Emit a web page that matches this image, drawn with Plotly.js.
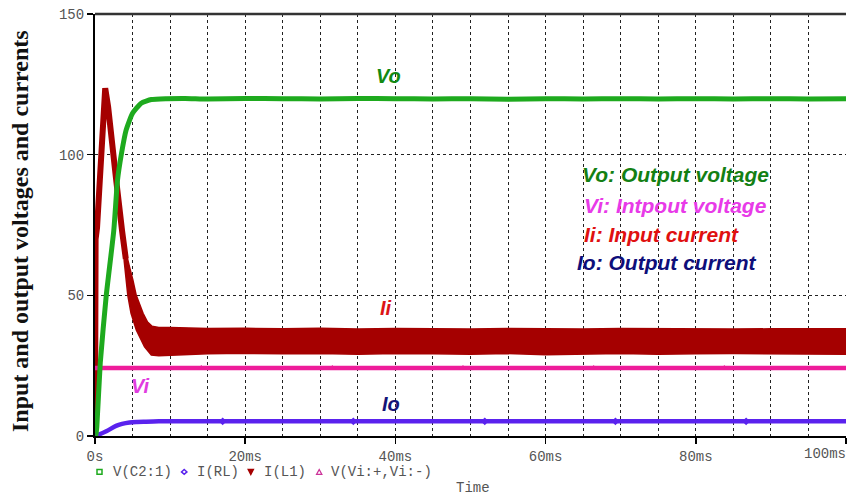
<!DOCTYPE html>
<html>
<head>
<meta charset="utf-8">
<script src="https://cdn.plot.ly/plotly-3.0.1.min.js"></script>
<style>html,body{margin:0;padding:0;background:#fff;}#chart{width:847px;height:495px;}</style>
</head>
<body>
<div id="chart"></div>
<script>
// ---- data (time in ms) ----
const xTickVals = [0, 20, 40, 60, 80, 100];
const xTickText = ['0s', '20ms', '40ms', '60ms', '80ms', ''];
const lastTickText = '100ms';
const yTickVals = [0, 50, 100, 150];

// Vo : output voltage V(C2:1)
const tVo = [0, 0.1, 0.24, 0.7, 1.5, 2.5, 3.0, 3.5, 4.15, 5.0, 6.15, 7.5, 9.5, 12, 15, 20, 25, 30, 35, 40, 45, 50, 55, 60, 65, 70, 75, 80, 85, 90, 95, 100];
const vo  = [0, 0, 3.2, 26, 50, 73, 91, 100, 108.8, 114.7, 118.3, 119.6, 119.9, 120.0, 119.8, 120.0, 119.9, 119.8, 120.0, 119.9, 119.8, 119.9, 119.7, 119.9, 119.8, 119.9, 119.8, 119.9, 119.8, 119.9, 119.8, 119.9];

// Ii : input current I(L1) - start-up spike
const tIi = [0, 0.02, 0.08, 0.27, 0.6, 1.0, 1.36, 1.75, 2.15, 2.82, 3.6, 4.1];
const ii  = [0, 40, 70, 74, 91, 109, 123.6, 117, 108.8, 91, 73, 63];
// Ii ripple band: upper and lower envelopes
const tIiUp = [3.7, 4.1, 4.6, 5.04, 5.49, 6.4, 7.0, 7.6, 8.5, 10, 15, 20, 25, 30, 35, 40, 45, 50, 55, 60, 65, 70, 75, 80, 85, 90, 95, 100];
const iiUp  = [70, 66, 60, 55.5, 50, 43.6, 40.5, 39.0, 38.6, 38.6, 38.2, 38.3, 38.1, 38.3, 38.0, 38.2, 38.1, 38.0, 38.2, 38.1, 38.0, 38.2, 38.1, 38.2, 38.0, 38.1, 38.2, 38.1];
const tIiLo = [3.7, 3.9, 4.15, 4.37, 4.8, 5.5, 6.6, 7.5, 8.5, 10, 15, 20, 25, 30, 35, 40, 45, 50, 55, 60, 65, 70, 75, 80, 85, 90, 95, 100];
const iiLo  = [70, 62, 55.5, 50, 43.6, 37.7, 31.7, 28.8, 28.5, 28.8, 29.2, 29.4, 29.2, 29.3, 29.1, 29.3, 29.2, 29.1, 29.3, 28.9, 29.2, 29.3, 29.1, 29.2, 29.3, 29.1, 29.2, 29.1];

// Vi : input voltage V(Vi:+,Vi:-)
const tVi = [0, 100];
const vi  = [24.2, 24.2];
const tViMarks = [14.15, 31.6, 49.0, 66.4, 83.8];

// Io : output current I(RL)
const tIo = [0, 0.5, 1.5, 2.8, 3.6, 4.6, 5.6, 6.8, 8.5, 10, 20, 30, 40, 50, 60, 70, 80, 90, 100];
const io  = [0, 0.5, 1.7, 3.6, 4.3, 4.8, 5.0, 5.1, 5.2, 5.2, 5.2, 5.2, 5.2, 5.2, 5.2, 5.2, 5.2, 5.2, 5.2];
const tIoMarks = [17.0, 34.4, 51.9, 69.3, 86.7];

const legendNames = ['V(C2:1)', 'I(RL)', 'I(L1)', 'V(Vi:+,Vi:-)'];

// ---- colours ----
const cVo = '#1eaa1e', cIi = '#a50000', cVi = '#ee1c9a', cIo = '#5a22ee';

const traces = [
  {x: tIiUp.concat(tIiLo.slice().reverse()), y: iiUp.concat(iiLo.slice().reverse()),
   mode: 'lines', fill: 'toself', fillcolor: cIi, line: {color: cIi, width: 1.5}, hoverinfo: 'skip'},
  {x: tIi, y: ii, mode: 'lines', line: {color: cIi, width: 6}},
  {x: tVi, y: vi, mode: 'lines', line: {color: cVi, width: 4.5}},
  {x: tViMarks, y: tViMarks.map(() => vi[0]), mode: 'markers', marker: {symbol: 'triangle-up', size: 6, color: cVi}},
  {x: tIo, y: io, mode: 'lines', line: {color: cIo, width: 4.5, shape: 'spline'}},
  {x: tIoMarks, y: tIoMarks.map(() => io[io.length - 1]), mode: 'markers', marker: {symbol: 'diamond', size: 6, color: cIo}},
  {x: tVo, y: vo, mode: 'lines', line: {color: cVo, width: 5, shape: 'spline', smoothing: 0.5}}
];

const L = 95, R = 846, T = 14, B = 436;
const px = v => (v - L) / (R - L);
const py = v => (B - v) / (B - T);

const boldIt = (txt, color, size, x, y, anchor) => ({
  text: '<b><i>' + txt + '</i></b>', x: x, y: y, xref: 'x', yref: 'y', showarrow: false,
  xanchor: anchor || 'center', yanchor: 'middle',
  font: {family: 'Liberation Sans, Arial, sans-serif', size: size, color: color}
});
const mono = {family: 'Liberation Mono, Courier New, monospace', size: 14, color: '#555'};

const annotations = [
  boldIt('Vo', '#128a12', 20, 39.1, 128.0),
  boldIt('Vi', '#e03ce0', 20, 6.04, 17.9),
  boldIt('Ii', '#dd1515', 20, 38.8, 45.4),
  boldIt('Io', '#141478', 20, 39.35, 11.4),
  boldIt('Vo: Output voltage', '#138013', 21, 64.6, 92.8, 'left'),
  boldIt('Vi: Intpout voltage', '#e83ae8', 21, 64.8, 81.8, 'left'),
  boldIt('Ii: Input current', '#e01010', 21, 64.8, 71.8, 'left'),
  boldIt('Io: Output current', '#0e0e7a', 21, 63.9, 61.5, 'left'),
  {text: '<b>Input and output voltages and currents</b>', xref: 'paper', yref: 'paper', x: px(20), y: py(231),
   textangle: -90, showarrow: false, xanchor: 'center', yanchor: 'middle',
   font: {family: 'Liberation Serif, Times New Roman, serif', size: 24, color: '#111'}},
  {text: 'Time', xref: 'paper', yref: 'paper', x: px(473), y: py(488), showarrow: false,
   xanchor: 'center', yanchor: 'middle', font: mono},
  {text: lastTickText, xref: 'paper', yref: 'paper', x: px(848), y: py(454.5), showarrow: false,
   xanchor: 'right', yanchor: 'middle', font: mono}
];
const legX = [112.3, 196.3, 263.5, 330.7];
legendNames.forEach((n, i) => annotations.push({
  text: n, xref: 'paper', yref: 'paper', x: px(legX[i] - 1.5), y: py(471.5), showarrow: false,
  xanchor: 'left', yanchor: 'middle', font: mono
}));

const ly = py(469.5), ly2 = py(474.3);
const shapes = [
  {type: 'line', xref: 'paper', yref: 'paper', x0: 0, x1: 1, y0: 1, y1: 1, line: {color: '#333', width: 2.5}},
  {type: 'rect', xref: 'paper', yref: 'paper', x0: px(97), x1: px(102), y0: ly, y1: ly2, line: {color: cVo, width: 1.5}},
  {type: 'path', xref: 'paper', yref: 'paper',
   path: `M${px(184.2)},${ly} L${px(186.9)},${py(471.9)} L${px(184.2)},${ly2} L${px(181.5)},${py(471.9)} Z`,
   line: {color: cIo, width: 1.5}},
  {type: 'path', xref: 'paper', yref: 'paper',
   path: `M${px(248.3)},${ly} L${px(253.3)},${ly} L${px(250.8)},${ly2} Z`,
   line: {color: cIi, width: 1.5}, fillcolor: cIi},
  {type: 'path', xref: 'paper', yref: 'paper',
   path: `M${px(319.2)},${ly} L${px(321.8)},${ly2} L${px(316.6)},${ly2} Z`,
   line: {color: '#cc3399', width: 1.3}}
];

const layout = {
  width: 847, height: 495,
  margin: {l: L, r: 847 - R, t: T, b: 495 - B, pad: 0},
  paper_bgcolor: '#fff', plot_bgcolor: '#fff',
  showlegend: false,
  xaxis: {
    range: [0, 100], tickvals: xTickVals, ticktext: xTickText,
    ticks: 'outside', ticklen: 6, tickwidth: 1.5, tickcolor: '#000',
    showline: true, linecolor: '#000', linewidth: 2,
    showgrid: true, gridcolor: '#222', griddash: 'dot', gridwidth: 1,
    minor: {dtick: 5, tick0: 0, showgrid: true, gridcolor: '#222', griddash: 'dot', gridwidth: 1, ticks: ''},
    zeroline: false, tickfont: mono, fixedrange: true
  },
  yaxis: {
    range: [0, 150], tickvals: yTickVals,
    ticks: 'outside', ticklen: 6, tickwidth: 1.5, tickcolor: '#000',
    showline: true, linecolor: '#000', linewidth: 2,
    showgrid: true, gridcolor: '#222', griddash: 'dot', gridwidth: 1,
    zeroline: false, tickfont: mono, fixedrange: true
  },
  annotations: annotations,
  shapes: shapes
};

Plotly.newPlot('chart', traces, layout, {staticPlot: true, displayModeBar: false});
</script>
</body>
</html>
